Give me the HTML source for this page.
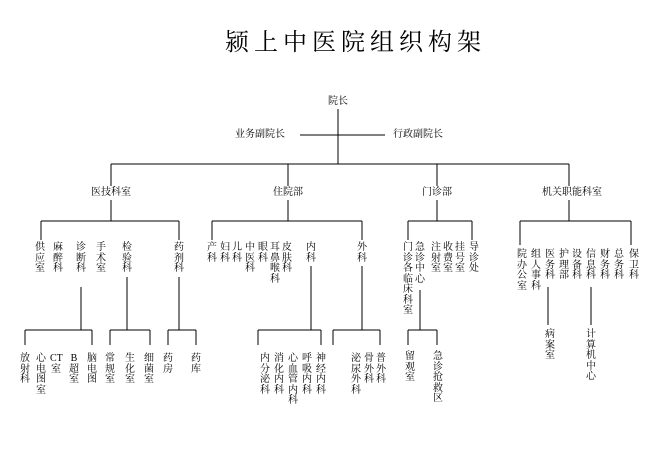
<!DOCTYPE html>
<html><head><meta charset="utf-8"><style>
body{margin:0;background:#fff;}
#c{position:relative;width:654px;height:464px;overflow:hidden;background:#fff;font-family:"Liberation Serif","Noto Serif CJK SC",serif;color:#000;}
.v{position:absolute;width:12px;font-size:10px;line-height:10.5px;text-align:center;word-break:break-all;}
.h{position:absolute;font-size:10px;line-height:12px;white-space:nowrap;transform:translateX(-50%);}
.t{position:absolute;left:225px;top:22px;font-size:24px;letter-spacing:5px;white-space:nowrap;}
svg{position:absolute;left:0;top:0;}
</style></head><body><div id="c">
<svg width="654" height="464" stroke="#000" stroke-width="1" shape-rendering="crispEdges">
<line x1="338" y1="109" x2="338" y2="164"/>
<line x1="300" y1="135" x2="385" y2="135"/>
<line x1="111" y1="164" x2="569" y2="164"/>
<line x1="111" y1="164" x2="111" y2="186"/><line x1="288" y1="164" x2="288" y2="186"/>
<line x1="437" y1="164" x2="437" y2="186"/><line x1="569" y1="164" x2="569" y2="186"/>
<line x1="111" y1="200" x2="111" y2="221"/><line x1="288" y1="200" x2="288" y2="221"/>
<line x1="437" y1="200" x2="437" y2="221"/><line x1="569" y1="200" x2="569" y2="221"/>
<!-- left -->
<line x1="41" y1="221" x2="179" y2="221"/><line x1="41" y1="221" x2="41" y2="240"/><line x1="179" y1="221" x2="179" y2="240"/>
<line x1="81" y1="287" x2="81" y2="330"/><line x1="25" y1="330" x2="92" y2="330"/><line x1="25" y1="330" x2="25" y2="345"/><line x1="92" y1="330" x2="92" y2="345"/>
<line x1="127" y1="277" x2="127" y2="330"/><line x1="110" y1="330" x2="150" y2="330"/><line x1="110" y1="330" x2="110" y2="345"/><line x1="150" y1="330" x2="150" y2="345"/>
<line x1="179" y1="277" x2="179" y2="330"/><line x1="168" y1="330" x2="196" y2="330"/><line x1="168" y1="330" x2="168" y2="345"/><line x1="196" y1="330" x2="196" y2="345"/>
<!-- inpatient -->
<line x1="212" y1="221" x2="362" y2="221"/><line x1="212" y1="221" x2="212" y2="240"/><line x1="362" y1="221" x2="362" y2="240"/>
<line x1="311" y1="266" x2="311" y2="330"/><line x1="258" y1="330" x2="321" y2="330"/><line x1="258" y1="330" x2="258" y2="345"/><line x1="321" y1="330" x2="321" y2="345"/>
<line x1="362" y1="266" x2="362" y2="330"/><line x1="333" y1="330" x2="380" y2="330"/><line x1="333" y1="330" x2="333" y2="345"/><line x1="380" y1="330" x2="380" y2="345"/>
<!-- outpatient -->
<line x1="408" y1="221" x2="472" y2="221"/><line x1="408" y1="221" x2="408" y2="240"/><line x1="472" y1="221" x2="472" y2="240"/>
<line x1="420" y1="290" x2="420" y2="330"/><line x1="408" y1="330" x2="437" y2="330"/><line x1="408" y1="330" x2="408" y2="345"/><line x1="437" y1="330" x2="437" y2="345"/>
<!-- admin -->
<line x1="520" y1="221" x2="631" y2="221"/><line x1="520" y1="221" x2="520" y2="245"/><line x1="631" y1="221" x2="631" y2="245"/>
<line x1="548" y1="287" x2="548" y2="325"/><line x1="591" y1="287" x2="591" y2="325"/>
</svg>
<div class="t">颍上中医院组织构架</div>
<div class="h" style="left:338px;top:96px">院长</div>
<div class="h" style="left:260px;top:129px">业务副院长</div>
<div class="h" style="left:418px;top:129px">行政副院长</div>
<div class="h" style="left:111px;top:187px">医技科室</div>
<div class="h" style="left:288px;top:187px">住院部</div>
<div class="h" style="left:437px;top:187px">门诊部</div>
<div class="h" style="left:572px;top:187px">机关职能科室</div>

<div class="v" style="left:34px;top:243px">供应室</div>
<div class="v" style="left:52px;top:243px">麻醉科</div>
<div class="v" style="left:75px;top:243px">诊断科</div>
<div class="v" style="left:95px;top:243px">手术室</div>
<div class="v" style="left:121px;top:243px">检验科</div>
<div class="v" style="left:173px;top:243px">药剂科</div>
<div class="v" style="left:19px;top:354px">放射科</div>
<div class="v" style="left:35px;top:354px">心电图室</div>
<div class="v" style="left:50px;top:354px"><span style="white-space:nowrap">CT</span>室</div>
<div class="v" style="left:68px;top:354px">B超室</div>
<div class="v" style="left:86px;top:354px">脑电图</div>
<div class="v" style="left:104px;top:354px">常规室</div>
<div class="v" style="left:124px;top:354px">生化室</div>
<div class="v" style="left:143px;top:354px">细菌室</div>
<div class="v" style="left:162px;top:354px">药房</div>
<div class="v" style="left:190px;top:354px">药库</div>

<div class="v" style="left:206px;top:243px">产科</div>
<div class="v" style="left:219px;top:243px">妇科</div>
<div class="v" style="left:231px;top:243px">儿科</div>
<div class="v" style="left:244px;top:243px">中医科</div>
<div class="v" style="left:257px;top:243px">眼科</div>
<div class="v" style="left:269px;top:243px">耳鼻喉科</div>
<div class="v" style="left:281px;top:243px">皮肤科</div>
<div class="v" style="left:305px;top:243px">内科</div>
<div class="v" style="left:356px;top:243px">外科</div>
<div class="v" style="left:259px;top:354px">内分泌科</div>
<div class="v" style="left:273px;top:354px">消化内科</div>
<div class="v" style="left:287px;top:354px">心血管内科</div>
<div class="v" style="left:301px;top:354px">呼吸内科</div>
<div class="v" style="left:315px;top:354px">神经内科</div>
<div class="v" style="left:350px;top:354px">泌尿外科</div>
<div class="v" style="left:363px;top:354px">骨外科</div>
<div class="v" style="left:375px;top:354px">普外科</div>

<div class="v" style="left:402px;top:243px">门诊各临床科室</div>
<div class="v" style="left:414px;top:243px">急诊中心</div>
<div class="v" style="left:430px;top:243px">注射室</div>
<div class="v" style="left:442px;top:243px">收费室</div>
<div class="v" style="left:454px;top:243px">挂号室</div>
<div class="v" style="left:468px;top:243px">导诊处</div>
<div class="v" style="left:404px;top:352px">留观室</div>
<div class="v" style="left:432px;top:352px">急诊抢救区</div>

<div class="v" style="left:516px;top:250px">院办公室</div>
<div class="v" style="left:530px;top:250px">组人事科</div>
<div class="v" style="left:544px;top:250px">医务科</div>
<div class="v" style="left:558px;top:250px">护理部</div>
<div class="v" style="left:571px;top:250px">设备科</div>
<div class="v" style="left:585px;top:250px">信息科</div>
<div class="v" style="left:599px;top:250px">财务科</div>
<div class="v" style="left:613px;top:250px">总务科</div>
<div class="v" style="left:628px;top:250px">保卫科</div>
<div class="v" style="left:544px;top:330px">病案室</div>
<div class="v" style="left:585px;top:330px">计算机中心</div>
</div></body></html>
